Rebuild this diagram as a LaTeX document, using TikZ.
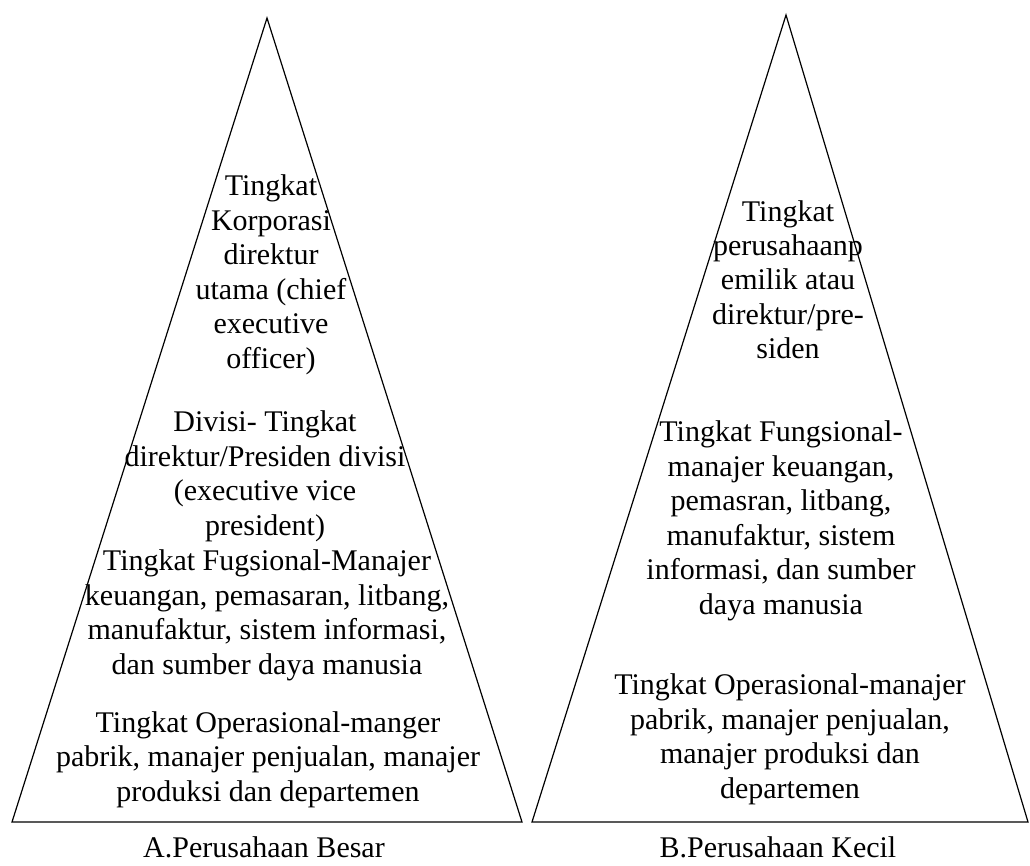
\documentclass[tikz,border=0pt]{standalone}
\usepackage{fontspec}
\setmainfont{Liberation Serif}
\begin{document}
\begin{tikzpicture}[x=1pt,y=-1pt,
  edge/.style={draw=black, line width=1.2pt, line join=miter},
  % a level block is placed by the baseline of its last line
  level/.style={align=center, anchor=base, inner sep=0pt,
    font=\fontsize{30}{34.5}\selectfont},
  caption/.style={anchor=base, inner sep=0pt,
    font=\fontsize{30}{34.5}\selectfont}]
\useasboundingbox (0,0) rectangle (1030,866);

% corners of the two pyramids
\coordinate (LA) at (267,18);
\coordinate (LL) at (12,822);
\coordinate (LR) at (522,822);
\coordinate (RA) at (786,15);
\coordinate (RL) at (532,822);
\coordinate (RR) at (1028,822);

\draw[edge] (LA) -- (LL) -- (LR) -- cycle;
\draw[edge] (RA) -- (RL) -- (RR) -- cycle;

% large company
\node[level] (l1) at (271,368) {Tingkat\\Korporasi\\direktur\\utama (chief\\executive\\officer)};
\node[level] (l2) at (265,535) {Divisi- Tingkat\\direktur/Presiden divisi\\(executive vice\\president)};
\node[level] (l3) at (267,674) {Tingkat Fugsional-Manajer\\keuangan, pemasaran, litbang,\\manufaktur, sistem informasi,\\dan sumber daya manusia};
\node[level] (l4) at (268,801) {Tingkat Operasional-manger\\pabrik, manajer penjualan, manajer\\produksi dan departemen};
\node[caption] (lcap) at (264,857) {A.Perusahaan Besar};

% small company
\node[level] (r1) at (788,359) {Tingkat\\perusahaanp\\emilik atau\\direktur/pre-\\siden};
\node[level] (r2) at (781,614) {Tingkat Fungsional-\\manajer keuangan,\\pemasran, litbang,\\manufaktur, sistem\\informasi, dan sumber\\daya manusia};
\node[level] (r3) at (790,798) {Tingkat Operasional-manajer\\pabrik, manajer penjualan,\\manajer produksi dan\\departemen};
\node[caption] (rcap) at (778,857) {B.Perusahaan Kecil};
\end{tikzpicture}
\end{document}
